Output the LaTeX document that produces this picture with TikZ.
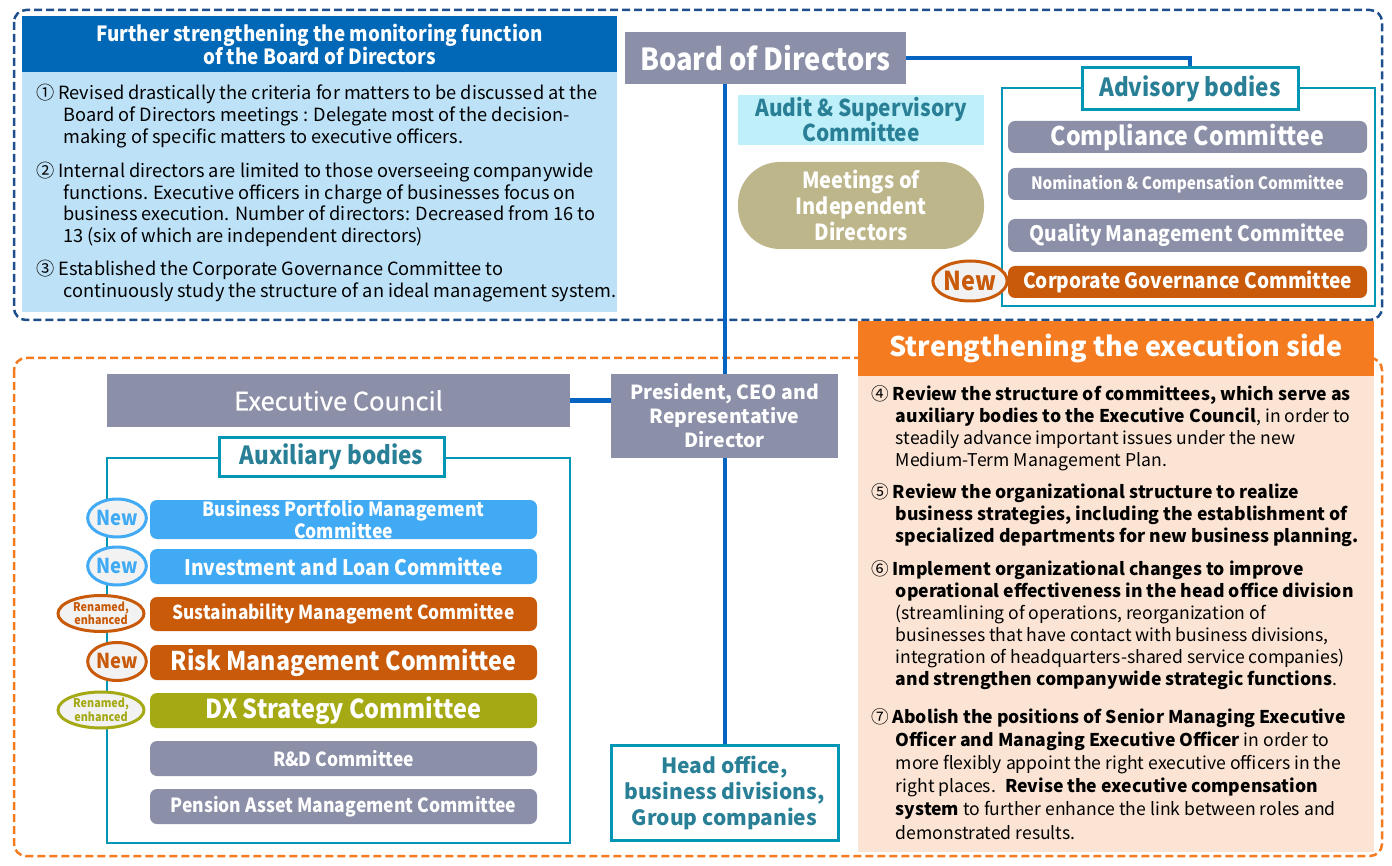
\documentclass[tikz,border=0pt]{standalone}
\usepackage{fontspec}
\setmainfont{Noto Sans CJK JP}
\newfontfamily\condfont[FakeStretch=0.9]{Noto Sans CJK JP}
\newfontfamily\medfont[FakeBold=0.6]{Noto Sans CJK JP}
\usetikzlibrary{positioning, shapes.geometric}

\definecolor{boardgray}{RGB}{139,143,168}
\definecolor{headblue}{RGB}{0,104,183}
\definecolor{paleblue}{RGB}{189,226,248}
\definecolor{linkblue}{RGB}{5,99,193}
\definecolor{navydash}{RGB}{31,78,140}
\definecolor{execorange}{RGB}{244,123,32}
\definecolor{peach}{RGB}{252,228,212}
\definecolor{tealframe}{RGB}{0,150,180}
\definecolor{tealtext}{RGB}{41,128,150}
\definecolor{auditcyan}{RGB}{191,240,250}
\definecolor{khaki}{RGB}{189,182,138}
\definecolor{rust}{RGB}{200,90,10}
\definecolor{skyblue}{RGB}{65,170,245}
\definecolor{olive}{RGB}{165,170,20}
\definecolor{badgefill}{RGB}{242,242,242}

\newcommand{\fsz}[2]{\fontsize{#1}{#2}\selectfont}

\begin{document}
\begin{tikzpicture}[x=1pt, y=-1pt,
    every node/.style={inner sep=0pt},
    graybox/.style={fill=boardgray, text=white, align=center},
    frame/.style={draw=tealframe, line width=2.5pt},
    framelabel/.style={draw=tealframe, line width=3pt, fill=white, text=tealtext,
        font=\condfont\bfseries\fsz{25}{27}},
    committee/.style={rounded corners=7pt, text=white, align=center,
        font=\condfont\bfseries\fsz{19.4}{20}},
    badge/.style={ellipse, line width=3pt, fill=badgefill, align=center,
        font=\condfont\bfseries\fsz{20.5}{20}},
    item/.style={anchor=north west, align=left, text=black},
    conn/.style={draw=linkblue, line width=4pt}
]
\useasboundingbox (0,0) rectangle (1392,866);

% outer dashed frames
\draw[navydash, line width=2.5pt, dash pattern=on 8pt off 4pt, rounded corners=12pt]
    (14,10) rectangle (1382,320);
\draw[execorange, line width=2.5pt, dash pattern=on 8pt off 4pt, rounded corners=12pt]
    (14,358) rectangle (1382,856);

% monitoring function (top left)
\node[fill=headblue, text=white, minimum width=595pt, minimum height=56pt, align=center,
    font=\condfont\bfseries\fsz{20.9}{23}] (monhead) at (319.5,44)
    {Further strengthening the monitoring function\\of the Board of Directors};
\node[fill=paleblue, minimum width=595pt, minimum height=240pt, below=0pt of monhead] (monbody) {};
\node[item, font=\fsz{18.2}{22}] (mon1) at (36,84)
    {① Revised drastically the criteria for matters to be discussed at the\\
    \hspace*{1.5em}Board of Directors meetings : Delegate most of the decision-\\
    \hspace*{1.5em}making of specific matters to executive officers.};
\node[item, font=\fsz{18.2}{21.5}] (mon2) at (36,162)
    {② Internal directors are limited to those overseeing companywide\\
    \hspace*{1.5em}functions. Executive officers in charge of businesses focus on\\
    \hspace*{1.5em}business execution. Number of directors: Decreased from 16 to\\
    \hspace*{1.5em}13 (six of which are independent directors)};
\node[item, font=\fsz{18.2}{22}] (mon3) at (36,260)
    {③ Established the Corporate Governance Committee to\\
    \hspace*{1.5em}continuously study the structure of an ideal management system.};

% board of directors and its bodies
\node[graybox, minimum width=281pt, minimum height=52pt, font=\condfont\bfseries\fsz{30.4}{32}]
    (board) at (765.5,58) {Board of Directors};
\node[fill=auditcyan, text=tealtext, minimum width=246pt, minimum height=50pt, align=center,
    font=\condfont\bfseries\fsz{23.2}{25}] (audit) at (861,120) {Audit \& Supervisory\\Committee};
\node[fill=khaki, text=white, rounded corners=42pt, minimum width=246pt, minimum height=87pt,
    align=center, font=\condfont\bfseries\fsz{22.2}{26}] (indep) at (861,205.5)
    {Meetings of\\Independent\\Directors};

% advisory bodies
\draw[frame] (1002,88) rectangle (1375,306);
\node[framelabel, minimum width=216pt, minimum height=42pt] (advlabel) at (1190,89) {Advisory bodies};
\node[committee, fill=boardgray, minimum width=359pt, minimum height=32pt,
    font=\condfont\bfseries\fsz{25.7}{26}] (compl) at (1187.5,137) {Compliance Committee};
\node[committee, fill=boardgray, minimum width=359pt, minimum height=32pt,
    font=\condfont\bfseries\fsz{17}{18}] (nomin) at (1187.5,184) {Nomination \& Compensation Committee};
\node[committee, fill=boardgray, minimum width=359pt, minimum height=33pt,
    font=\condfont\bfseries\fsz{21.3}{22}] (quality) at (1187.5,235.5) {Quality Management Committee};
\node[committee, fill=rust, minimum width=359pt, minimum height=32pt,
    font=\condfont\bfseries\fsz{21.2}{22}] (corpgov) at (1187.5,282) {Corporate Governance Committee};
\node[badge, draw=rust, text=rust, minimum width=68pt, minimum height=40pt,
    font=\condfont\bfseries\fsz{26}{26}] (newcg) at (970,281) {New};

\draw[conn] (board.east) -| (advlabel.north);

% execution side (right)
\node[fill=execorange, text=white, minimum width=516pt, minimum height=55pt,
    font=\bfseries\fsz{27}{30}] (exechead) at (1116,348.5) {Strengthening the execution side};
\node[fill=peach, minimum width=516pt, minimum height=476pt, below=0pt of exechead] (execbody) {};
\node[item, font=\fsz{17.6}{22}] (exec4) at (871,385)
    {④ \textbf{Review the structure of committees, which serve as}\\
    \hspace*{1.4em}\textbf{auxiliary bodies to the Executive Council}, in order to\\
    \hspace*{1.4em}steadily advance important issues under the new\\
    \hspace*{1.4em}Medium-Term Management Plan.};
\node[item, font=\fsz{17.6}{22}] (exec5) at (871,483)
    {⑤ \textbf{Review the organizational structure to realize}\\
    \hspace*{1.4em}\textbf{business strategies, including the establishment of}\\
    \hspace*{1.4em}\textbf{specialized departments for new business planning.}};
\node[item, font=\fsz{17.6}{22}] (exec6) at (871,560)
    {⑥ \textbf{Implement organizational changes to improve}\\
    \hspace*{1.4em}\textbf{operational effectiveness in the head office division}\\
    \hspace*{1.4em}(streamlining of operations, reorganization of\\
    \hspace*{1.4em}businesses that have contact with business divisions,\\
    \hspace*{1.4em}integration of headquarters-shared service companies)\\
    \hspace*{1.4em}\textbf{and strengthen companywide strategic functions}.};
\node[item, font=\fsz{17.6}{23.2}] (exec7) at (871,708)
    {⑦ \textbf{Abolish the positions of Senior Managing Executive}\\
    \hspace*{1.4em}\textbf{Officer and Managing Executive Officer} in order to\\
    \hspace*{1.4em}more flexibly appoint the right executive officers in the\\
    \hspace*{1.4em}right places. \ \textbf{Revise the executive compensation}\\
    \hspace*{1.4em}\textbf{system} to further enhance the link between roles and\\
    \hspace*{1.4em}demonstrated results.};

% executive council, president, head office
\node[graybox, minimum width=463pt, minimum height=53pt, font=\medfont\fsz{25.5}{26}]
    (council) at (338.5,400.5) {Executive Council};
\node[graybox, minimum width=227pt, minimum height=84pt, font=\bfseries\fsz{19.4}{24}]
    (pres) at (724.5,416) {President, CEO and\\Representative\\Director};
\node[draw=tealframe, line width=3pt, fill=white, text=tealtext, minimum width=227pt,
    minimum height=95pt, align=center, font=\bfseries\fsz{21}{26}]
    (head) at (724.5,792.5) {Head office,\\business divisions,\\Group companies};

\draw[conn] (board.south -| pres.north) -- (pres.north);
\draw[conn] (pres.south) -- (head.north);
\draw[conn] (council.east) -- (council.east -| pres.west);

% auxiliary bodies
\draw[frame] (107,458) rectangle (570,843);
\node[framelabel, minimum width=225pt, minimum height=39pt] (auxlabel) at (331.5,456.5) {Auxiliary bodies};
\node[committee, fill=skyblue, minimum width=387pt, minimum height=39pt,
    font=\condfont\bfseries\fsz{19.5}{17.5}] (portfolio) at (343.5,519.5)
    {Business Portfolio Management\\Committee};
\node[committee, fill=skyblue, minimum width=387pt, minimum height=35pt,
    font=\condfont\bfseries\fsz{21.4}{22}] (invest) at (343.5,566.5) {Investment and Loan Committee};
\node[committee, fill=rust, minimum width=387pt, minimum height=34pt,
    font=\condfont\bfseries\fsz{19.2}{20}] (sustain) at (343.5,614) {Sustainability Management Committee};
\node[committee, fill=rust, minimum width=387pt, minimum height=35pt,
    font=\condfont\bfseries\fsz{25.8}{27}] (risk) at (343.5,662.5) {Risk Management Committee};
\node[committee, fill=olive, minimum width=387pt, minimum height=35pt,
    font=\condfont\bfseries\fsz{26.1}{28}] (dx) at (343.5,710.5) {DX Strategy Committee};
\node[committee, fill=boardgray, minimum width=387pt, minimum height=35pt] (rnd) at (343.5,758.5)
    {R\&D Committee};
\node[committee, fill=boardgray, minimum width=387pt, minimum height=35pt,
    font=\condfont\bfseries\fsz{19.5}{20}] (pension) at (343.5,806.5) {Pension Asset Management Committee};

\node[badge, draw=skyblue, text=skyblue, minimum width=56pt, minimum height=38pt] (newport) at (117,518) {New};
\node[badge, draw=skyblue, text=skyblue, minimum width=56pt, minimum height=38pt] (newinv) at (117,566) {New};
\node[badge, draw=rust, text=rust, minimum width=86pt, minimum height=36pt,
    font=\condfont\bfseries\fsz{12}{13.5}] (rensus) at (101,613.5) {Renamed,\\enhanced};
\node[badge, draw=rust, text=rust, minimum width=56pt, minimum height=38pt] (newrisk) at (117,661.5) {New};
\node[badge, draw=olive, text=olive, minimum width=86pt, minimum height=36pt,
    font=\condfont\bfseries\fsz{12}{13.5}] (rendx) at (101,710) {Renamed,\\enhanced};

\end{tikzpicture}
\end{document}
